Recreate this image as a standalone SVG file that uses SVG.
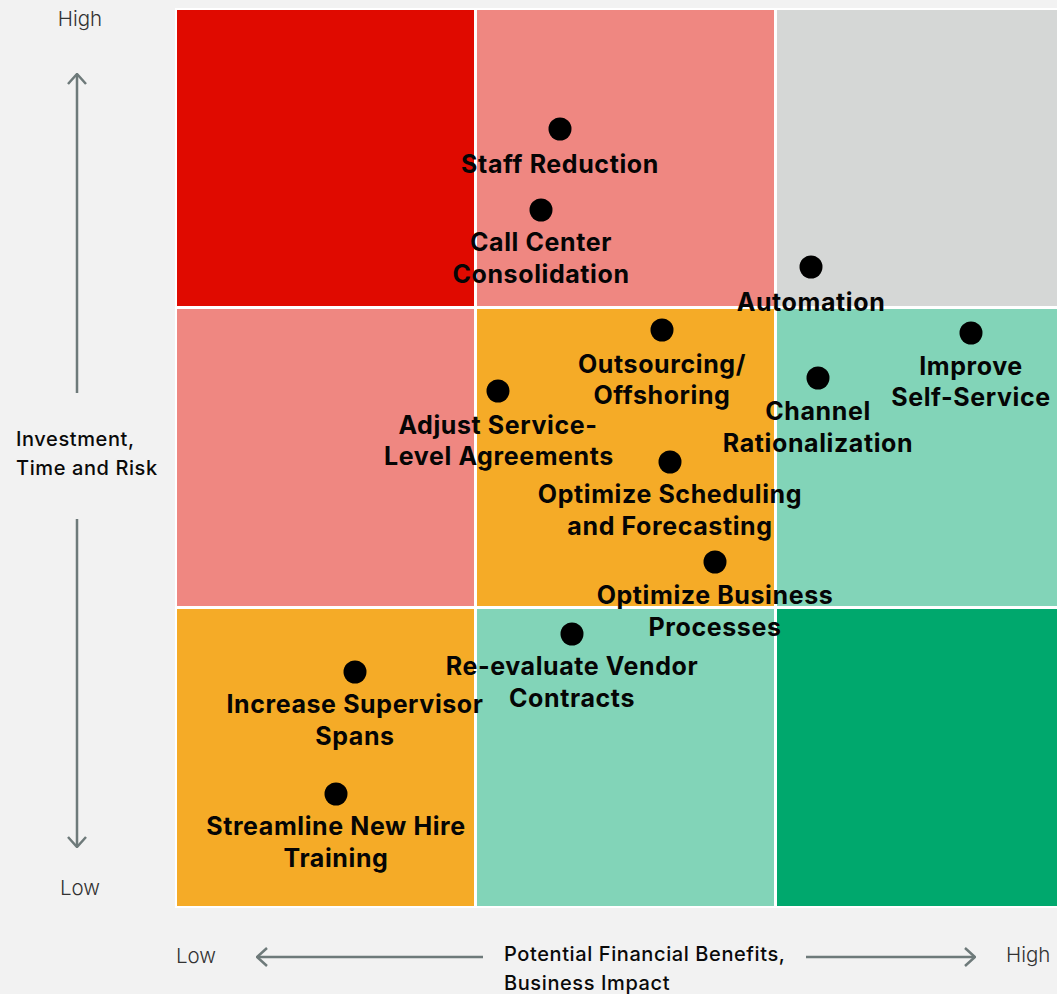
<svg xmlns="http://www.w3.org/2000/svg" width="1057" height="994" viewBox="0 0 1057 994">
  <defs>
    <style>
      .bg { fill: #f2f2f2; }
      .frame { fill: #ffffff; }
      .red { fill: #e00a00; }
      .pink { fill: #ef8781; }
      .grey { fill: #d5d7d6; }
      .amber { fill: #f5ab27; }
      .mint { fill: #82d4b8; }
      .green { fill: #00a86d; }
      .dot { fill: #000000; }
      .lbl { font-family: Inter, "Liberation Sans", sans-serif; font-weight: 700; font-size: 25px; letter-spacing: 0.6px; fill: #050505; text-anchor: middle; }
      .axis-title { font-family: Inter, "Liberation Sans", sans-serif; font-weight: 500; font-size: 20px; letter-spacing: 0.6px; fill: #0a0a0a; }
      .axis-end { font-family: Inter, "Liberation Sans", sans-serif; font-weight: 300; font-size: 20.5px; fill: #333333; }
      .axis-line { stroke: #6e7a7a; stroke-width: 2.5; fill: none; }
    </style>
    <marker id="head" viewBox="0 0 12 20" refX="11" refY="10" markerWidth="12" markerHeight="20" markerUnits="userSpaceOnUse" orient="auto">
      <path d="M1 1 L11 10 L1 19" fill="none" stroke="#6e7a7a" stroke-width="2.5"/>
    </marker>
  </defs>

  <rect class="bg" x="0" y="0" width="1057" height="994"/>

  <!-- 3x3 matrix -->
  <g id="matrix">
    <rect class="frame" x="175" y="8" width="882" height="900"/>
    <rect class="red" x="177" y="10" width="297" height="296"/>
    <rect class="pink" x="477" y="10" width="297" height="296"/>
    <rect class="grey" x="777" y="10" width="280" height="296"/>
    <rect class="pink" x="177" y="309" width="297" height="297"/>
    <rect class="amber" x="477" y="309" width="297" height="297"/>
    <rect class="mint" x="777" y="309" width="280" height="297"/>
    <rect class="amber" x="177" y="609" width="297" height="297"/>
    <rect class="mint" x="477" y="609" width="297" height="297"/>
    <rect class="green" x="777" y="609" width="280" height="297"/>
  </g>

  <!-- axis arrows -->
  <g id="connectors">
    <line class="axis-line" x1="77" y1="393" x2="77" y2="74" marker-end="url(#head)"/>
    <line class="axis-line" x1="77" y1="519" x2="77" y2="847" marker-end="url(#head)"/>
    <line class="axis-line" x1="483" y1="957" x2="257" y2="957" marker-end="url(#head)"/>
    <line class="axis-line" x1="806" y1="957" x2="975" y2="957" marker-end="url(#head)"/>
  </g>

  <!-- axis labels -->
  <g id="y-axis">
    <text class="axis-end" x="80" y="26" text-anchor="middle">High</text>
    <text class="axis-end" x="80" y="895" text-anchor="middle">Low</text>
    <text class="axis-title" x="16" y="446">Investment,</text>
    <text class="axis-title" x="16" y="475">Time and Risk</text>
  </g>
  <g id="x-axis">
    <text class="axis-end" x="176" y="963">Low</text>
    <text class="axis-end" x="1006" y="962">High</text>
    <text class="axis-title" x="504" y="961">Potential Financial Benefits,</text>
    <text class="axis-title" x="504" y="990">Business Impact</text>
  </g>

  <!-- initiatives -->
  <g id="staff-reduction">
    <circle class="dot" cx="560" cy="129" r="11.5"/>
    <text class="lbl" x="560" y="173">Staff Reduction</text>
  </g>
  <g id="call-center-consolidation">
    <circle class="dot" cx="541" cy="210" r="11.5"/>
    <text class="lbl" x="541" y="251">Call Center</text>
    <text class="lbl" x="541" y="283">Consolidation</text>
  </g>
  <g id="automation">
    <circle class="dot" cx="811" cy="267" r="11.5"/>
    <text class="lbl" x="811" y="311">Automation</text>
  </g>
  <g id="outsourcing">
    <circle class="dot" cx="662" cy="330" r="11.5"/>
    <text class="lbl" x="662" y="373">Outsourcing/</text>
    <text class="lbl" x="662" y="404">Offshoring</text>
  </g>
  <g id="improve-self-service">
    <circle class="dot" cx="971" cy="333" r="11.5"/>
    <text class="lbl" x="971" y="375">Improve</text>
    <text class="lbl" x="971" y="406">Self-Service</text>
  </g>
  <g id="channel-rationalization">
    <circle class="dot" cx="818" cy="378" r="11.5"/>
    <text class="lbl" x="818" y="420">Channel</text>
    <text class="lbl" x="818" y="452">Rationalization</text>
  </g>
  <g id="adjust-sla">
    <circle class="dot" cx="498" cy="391" r="11.5"/>
    <text class="lbl" x="498" y="434">Adjust Service-</text>
    <text class="lbl" x="499" y="465">Level Agreements</text>
  </g>
  <g id="optimize-scheduling">
    <circle class="dot" cx="670" cy="462" r="11.5"/>
    <text class="lbl" x="670" y="503">Optimize Scheduling</text>
    <text class="lbl" x="670" y="535">and Forecasting</text>
  </g>
  <g id="optimize-business-processes">
    <circle class="dot" cx="715" cy="562" r="11.5"/>
    <text class="lbl" x="715" y="604">Optimize Business</text>
    <text class="lbl" x="715" y="636">Processes</text>
  </g>
  <g id="vendor-contracts">
    <circle class="dot" cx="572" cy="634" r="11.5"/>
    <text class="lbl" x="572" y="675">Re-evaluate Vendor</text>
    <text class="lbl" x="572" y="707">Contracts</text>
  </g>
  <g id="supervisor-spans">
    <circle class="dot" cx="355" cy="672" r="11.5"/>
    <text class="lbl" x="355" y="713">Increase Supervisor</text>
    <text class="lbl" x="355" y="745">Spans</text>
  </g>
  <g id="new-hire-training">
    <circle class="dot" cx="336" cy="794" r="11.5"/>
    <text class="lbl" x="336" y="835">Streamline New Hire</text>
    <text class="lbl" x="336" y="867">Training</text>
  </g>
</svg>
